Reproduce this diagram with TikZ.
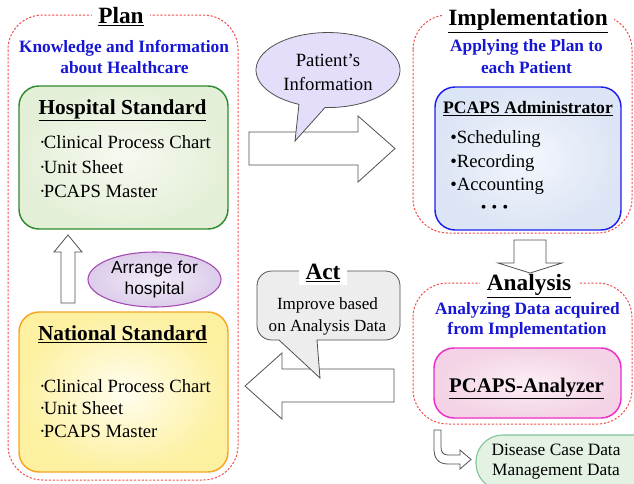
\documentclass[tikz,border=0pt]{standalone}
\usepackage{fontspec}
\setmainfont{Liberation Serif}
\newfontfamily\arialfont{Liberation Sans}
\usetikzlibrary{shapes.geometric}

\definecolor{phasered}{HTML}{F24A4A}
\definecolor{subblue}{HTML}{1616D4}
\definecolor{hgreen}{HTML}{2E8B2E}
\definecolor{norange}{HTML}{F5A623}
\definecolor{ablue}{HTML}{1E1EF0}
\definecolor{amagenta}{HTML}{F02CC8}
\definecolor{apurple}{HTML}{A448B4}
\definecolor{dgreen}{HTML}{7CC495}
\definecolor{arrowgray}{HTML}{505050}

% small bullet set tight against the item text
\newcommand{\tightdot}{·\kern-1.2pt}

\begin{document}
\begin{tikzpicture}[x=0.75pt,y=-0.75pt,
  phase/.style={draw=phasered, line width=0.75pt, dash pattern=on 1.6pt off 1.3pt, rounded corners=26pt},
  phasetitle/.style={font=\fontsize{17.5}{20}\selectfont\bfseries, fill=white, inner xsep=5pt, inner ysep=2pt, anchor=base},
  sub/.style={font=\fontsize{13}{15}\selectfont\bfseries, text=subblue, anchor=base, inner sep=0pt},
  stdbox/.style={rounded corners=15pt, line width=1.1pt},
  boxtitle/.style={font=\fontsize{16}{18}\selectfont\bfseries, anchor=base, inner sep=0pt},
  item/.style={font=\fontsize{14}{16}\selectfont, anchor=base west, inner sep=0pt},
  plain/.style={anchor=base, inner sep=0pt},
  blockarrow/.style={draw=arrowgray, fill=white, line width=0.6pt, line join=miter}
]
\useasboundingbox (0,0) rectangle (634,483);

% ---------- phase frames ----------
\draw[phase] (8,15) rectangle (238,480);
\draw[phase] (413,15) rectangle (632,233);
\draw[phase] (413,283) rectangle (632,424);

\node[phasetitle] (plan) at (121,23) {\underline{Plan}};
\node[phasetitle] (impl) at (528,25) {\underline{Implementation}};
\node[phasetitle] (anal) at (529,290) {\underline{Analysis}};

% ---------- Plan ----------
\node[sub] (k1) at (124,52.7) {Knowledge and Information};
\node[sub] (k2) at (124.5,73) {about Healthcare};

\node[stdbox, draw=hgreen, inner color={rgb,255:red,246;green,249;blue,240},
      outer color={rgb,255:red,228;green,239;blue,216},
      minimum width=156.75pt, minimum height=107.25pt] (hosp) at (123.5,157.5) {};
\node[boxtitle] (hosp-t) at (122.5,114) {\underline{Hospital Standard}};
\node[item] (h1) at (39,148) {\tightdot Clinical Process Chart};
\node[item] (h2) at (39,173) {\tightdot Unit Sheet};
\node[item] (h3) at (39,197) {\tightdot PCAPS Master};

\node[stdbox, draw=norange, inner color={rgb,255:red,255;green,254;blue,240},
      outer color={rgb,255:red,253;green,240;blue,160},
      minimum width=156.75pt, minimum height=120pt] (nat) at (123.5,392) {};
\node[boxtitle] (nat-t) at (122.5,340) {\underline{National Standard}};
\node[item] (n1) at (39,392) {\tightdot Clinical Process Chart};
\node[item] (n2) at (39,414) {\tightdot Unit Sheet};
\node[item] (n3) at (39,437) {\tightdot PCAPS Master};

% up arrow from the national to the hospital standard
\draw[blockarrow] (61,303) -- (61,252) -- (54,252) -- (68,235) -- (82,252)
  -- (75,252) -- (75,303) -- cycle;

\node[ellipse, draw=apurple, line width=0.8pt,
      inner color={rgb,255:red,242;green,236;blue,248},
      outer color={rgb,255:red,220;green,204;blue,234},
      minimum width=99.75pt, minimum height=41.25pt, inner sep=0pt,
      font=\arialfont\fontsize{13}{15.5}\selectfont, align=center] (arr) at (154.5,279.5)
      {Arrange for\\hospital};

% ---------- Plan -> Implementation ----------
\draw[blockarrow] (249,132) -- (358,132) -- (358,116) -- (395,148.5) -- (358,182)
  -- (358,165) -- (249,165) -- cycle;

% speech bubble with its tail
\draw[draw=arrowgray, fill={rgb,255:red,228;green,222;blue,250}, line width=0.6pt]
  (295,141) -- (325,107.5) arc[start angle=92.4, end angle=-246.2, x radius=72, y radius=37.5]
  -- cycle;
\node[plain, font=\fontsize{14}{16}\selectfont] (pi1) at (328,66) {Patient’s};
\node[plain, font=\fontsize{14}{16}\selectfont] (pi2) at (328,90) {Information};

% ---------- Implementation ----------
\node[sub] (ap1) at (526.5,51) {Applying the Plan to};
\node[sub] (ap2) at (526.5,73) {each Patient};

\node[stdbox, draw=ablue, inner color={rgb,255:red,243;green,246;blue,252},
      outer color={rgb,255:red,220;green,229;blue,245},
      minimum width=139.5pt, minimum height=107.25pt] (adm) at (528,158.5) {};
\node[boxtitle, font=\fontsize{13.2}{15}\selectfont\bfseries] (adm-t) at (528,113) {\underline{PCAPS Administrator}};
\node[item] (a1) at (450,143) {•Scheduling};
\node[item] (a2) at (450,167) {•Recording};
\node[item] (a3) at (450,190) {•Accounting};
\node[plain, font=\fontsize{12}{14}\selectfont] (a4) at (494.5,212) {•\,\,•\,\,•};

% Implementation -> Analysis
\draw[blockarrow] (514,240) -- (546,240) -- (546,263) -- (562,263) -- (530,273)
  -- (498,263) -- (514,263) -- cycle;

% ---------- Analysis ----------
\node[sub] (an1) at (527.5,314) {Analyzing Data acquired};
\node[sub] (an2) at (527,334) {from Implementation};

\node[stdbox, draw=amagenta, inner color={rgb,255:red,252;green,238;blue,246},
      outer color={rgb,255:red,243;green,211;blue,229},
      minimum width=140.25pt, minimum height=52.5pt] (pca) at (527.5,383) {};
\node[boxtitle, font=\fontsize{15.6}{18}\selectfont\bfseries] (pca-t) at (526.5,392) {\underline{PCAPS-Analyzer}};

% bent arrow to the output data
\draw[blockarrow] (434,430) -- (441,430) -- (441,447) .. controls (441,452) and (443,455) .. (448,455)
  -- (460,455) -- (460,450) -- (471,459.5) -- (460,469) -- (460,464) -- (448,464)
  .. controls (438,464) and (434,458) .. (434,449) -- cycle;

\node[draw=dgreen, fill={rgb,255:red,228;green,242;blue,228}, line width=0.8pt,
      rounded corners=20pt, minimum width=138pt, minimum height=41.25pt] (dis) at (568,462.5) {};
\node[plain, font=\fontsize{13}{15}\selectfont] (d1) at (556,455) {Disease Case Data};
\node[plain, font=\fontsize{13}{15}\selectfont] (d2) at (556,475) {Management Data};

% ---------- Act ----------
\draw[blockarrow] (394,369) -- (282,369) -- (282,353) -- (245,386) -- (282,419)
  -- (282,402) -- (394,402) -- cycle;

\draw[draw=arrowgray, fill={rgb,255:red,237;green,237;blue,237}, line width=0.6pt]
  (317,340) [rounded corners=11pt] -- (400,340) -- (400,271) -- (257,271) -- (257,340)
  [sharp corners] -- (279,340) -- (320,378) -- cycle;
\node[phasetitle] (act) at (323,279) {\underline{Act}};
\node[plain, font=\fontsize{12.8}{15}\selectfont] (ib1) at (327.5,309) {Improve based};
\node[plain, font=\fontsize{12.8}{15}\selectfont] (ib2) at (327.5,331) {on Analysis Data};

\end{tikzpicture}
\end{document}
